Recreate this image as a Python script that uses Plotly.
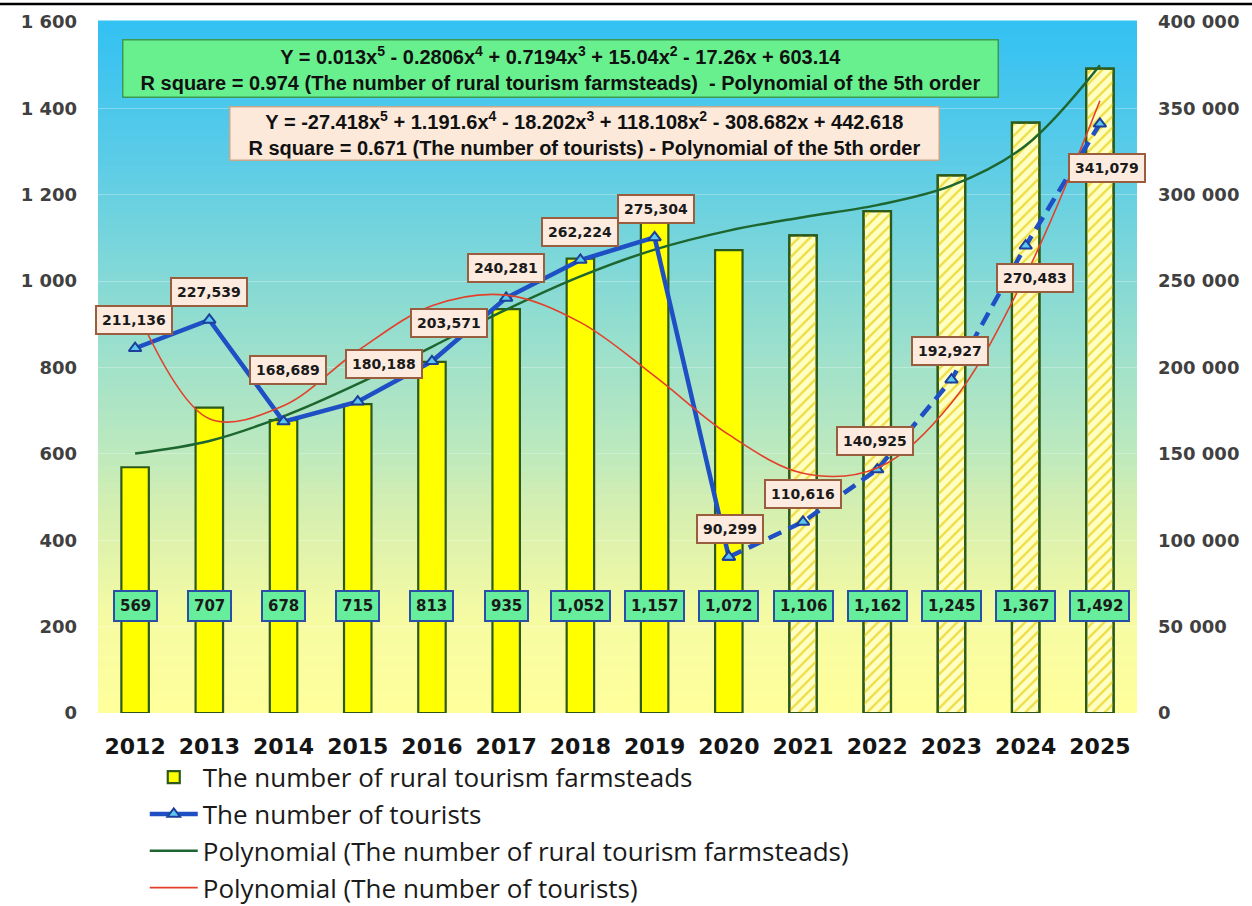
import plotly.graph_objects as go

# ---------------- data ----------------
years = [2012, 2013, 2014, 2015, 2016, 2017, 2018, 2019, 2020, 2021, 2022, 2023, 2024, 2025]
farmsteads = [569, 707, 678, 715, 813, 935, 1052, 1157, 1072, 1106, 1162, 1245, 1367, 1492]
farmstead_labels = ["569", "707", "678", "715", "813", "935", "1,052", "1,157", "1,072",
                    "1,106", "1,162", "1,245", "1,367", "1,492"]
forecast = [False] * 9 + [True] * 5
tourists = [211136, 227539, 168689, 180188, 203571, 240281, 262224, 275304, 90299,
            110616, 140925, 192927, 270483, 341079]
tourist_labels = ["211,136", "227,539", "168,689", "180,188", "203,571", "240,281", "262,224",
                  "275,304", "90,299", "110,616", "140,925", "192,927", "270,483", "341,079"]
# trend-line values
trend_farm = [601, 630, 687, 762, 848, 934, 1011, 1073, 1117, 1148, 1176, 1221, 1314, 1500]
trend_tour = [235000, 170300, 177900, 209700, 235700, 241900, 226100, 195000, 161100,
              138800, 141800, 179500, 253400, 354400]
left_ticks = [0, 200, 400, 600, 800, 1000, 1200, 1400, 1600]
left_tick_text = ["0", "200", "400", "600", "800", "1 000", "1 200", "1 400", "1 600"]
right_ticks = [0, 50000, 100000, 150000, 200000, 250000, 300000, 350000, 400000]
right_tick_text = ["0", "50 000", "100 000", "150 000", "200 000", "250 000",
                   "300 000", "350 000", "400 000"]
eq1 = ["Y = 0.013x<sup>5</sup> - 0.2806x<sup>4</sup> + 0.7194x<sup>3</sup> + 15.04x<sup>2</sup> - 17.26x + 603.14",
       "R square = 0.974 (The number of rural tourism farmsteads)  - Polynomial of the 5th order"]
eq2 = ["Y = -27.418x<sup>5</sup> + 1.191.6x<sup>4</sup> - 18.202x<sup>3</sup> + 118.108x<sup>2</sup> - 308.682x + 442.618",
       "R square = 0.671 (The number of tourists) - Polynomial of the 5th order"]
bar_label_level = 247

# ---------------- styles ----------------
tourist_label_shift = [(-1, 28), (0, 28), (4, 52), (26, 38), (17, 38), (0, 30), (0, 28),
                       (1, 28), (1, 28), (0, 28), (-2, 29), (-1, 29), (9, -32), (7, -44)]
grad_stops = [(0.0, "#FFFF9C"), (0.135, "#F6FBA2"), (0.308, "#D2EEB2"), (0.38, "#BCE9BE"),
              (0.525, "#9CE0CC"), (0.67, "#7AD6DA"), (0.815, "#58CBE8"), (1.0, "#33C1F3")]


def hex2rgb(h):
    h = h.lstrip("#")
    return tuple(int(h[i:i + 2], 16) for i in (0, 2, 4))


def grad_color(t):
    for (a, ca), (b, cb) in zip(grad_stops[:-1], grad_stops[1:]):
        if a <= t <= b:
            f = (t - a) / (b - a)
            ra, rb = hex2rgb(ca), hex2rgb(cb)
            return "rgb(%d,%d,%d)" % tuple(round(ra[i] + (rb[i] - ra[i]) * f) for i in range(3))
    return grad_stops[-1][1]


fig = go.Figure()

fig.add_trace(go.Bar(
    x=years, y=farmsteads, name="The number of rural tourism farmsteads",
    width=0.37, legendgroup="g1",
    marker=dict(color=["#FFFFC4" if f else "#FFFF00" for f in forecast],
                line=dict(color="#2D5A1B", width=2.2)),
    hoverinfo="skip",
))
fc_years = [y for y, f in zip(years, forecast) if f]
fc_vals = [v for v, f in zip(farmsteads, forecast) if f]
fig.add_trace(go.Bar(
    x=fc_years, y=fc_vals, name="forecast hatch", showlegend=False,
    width=0.37, legendgroup="g1",
    marker=dict(color="rgba(0,0,0,0)", line=dict(color="#2D5A1B", width=2.2),
                pattern=dict(shape="/", fgcolor="#EEDD44", size=8, solidity=0.3,
                             fillmode="replace")),
    hoverinfo="skip",
))

fig.add_trace(go.Scatter(
    x=years[:9], y=tourists[:9], name="The number of tourists", yaxis="y2",
    mode="lines+markers", legendgroup="g2",
    line=dict(color="#1F4FC4", width=4.5),
    marker=dict(symbol="triangle-up", size=11, color="#5CC8EE",
                line=dict(color="#1B3F9A", width=2)),
))
fig.add_trace(go.Scatter(
    x=years[8:], y=tourists[8:], name="The number of tourists", yaxis="y2",
    mode="lines+markers", legendgroup="g2", showlegend=False,
    line=dict(color="#1F4FC4", width=4.5, dash="14px,8px"),
    marker=dict(symbol="triangle-up", size=11, color="#5CC8EE",
                line=dict(color="#1B3F9A", width=2)),
))
fig.add_trace(go.Scatter(
    x=years, y=trend_farm, name="Polynomial (The number of rural tourism farmsteads)",
    mode="lines", legendgroup="g3", line=dict(color="#1E6630", width=2.5, shape="spline"),
))
fig.add_trace(go.Scatter(
    x=years, y=trend_tour, name="Polynomial (The number of tourists)", yaxis="y2",
    mode="lines", legendgroup="g4", line=dict(color="#E2402A", width=1.6, shape="spline"),
))

# gradient background
shapes = []
n = 120
for i in range(n):
    y0 = i / n
    y1 = (i + 1) / n
    shapes.append(dict(type="rect", xref="paper", yref="paper", x0=0, x1=1, y0=y0, y1=y1 + 0.002,
                       fillcolor=grad_color((y0 + y1) / 2), line=dict(width=0), layer="below"))
# top black rule
shapes.append(dict(type="line", xref="paper", yref="paper", x0=-0.1, x1=1.2, y0=1.026, y1=1.026,
                   line=dict(color="black", width=2.5)))

annotations = []
for yr, lab in zip(years, farmstead_labels):
    annotations.append(dict(
        x=yr, y=bar_label_level, xref="x", yref="y", text=lab, showarrow=False,
        font=dict(family="DejaVu Sans", size=15, color="#1A1A1A", weight="bold"),
        bgcolor="#66EE9C", bordercolor="#2B4EA6", borderwidth=2, borderpad=5,
    ))
for yr, val, lab, (dx, dy) in zip(years, tourists, tourist_labels, tourist_label_shift):
    annotations.append(dict(
        x=yr, y=val, xref="x", yref="y2", text=lab, showarrow=False,
        xshift=dx, yshift=dy,
        font=dict(family="DejaVu Sans", size=14, color="#1A1A1A", weight="bold"),
        bgcolor="#FDEBDF", bordercolor="#9A5E3E", borderwidth=2, borderpad=5,
    ))
annotations.append(dict(
    x=0.4447, y=0.9334, xref="paper", yref="paper", showarrow=False,
    xanchor="center", yanchor="middle",
    text="%s<br>%s" % tuple(eq1), width=872, height=54, align="center",
    font=dict(family="Liberation Sans", size=20, color="#111111", weight="bold"),
    bgcolor="#69F08E", bordercolor="#3A9A50", borderwidth=1.5, borderpad=1,
))
annotations.append(dict(
    x=0.4678, y=0.838, xref="paper", yref="paper", showarrow=False,
    xanchor="center", yanchor="middle",
    text="%s<br>%s" % tuple(eq2), width=706, height=50, align="center",
    font=dict(family="Liberation Sans", size=20, color="#111111", weight="bold"),
    bgcolor="#FCE9DA", bordercolor="#C9A88A", borderwidth=1.5, borderpad=1,
))

fig.update_layout(
    width=1252, height=906,
    margin=dict(l=98, r=115, t=22, b=193, autoexpand=False),
    paper_bgcolor="white", plot_bgcolor="rgba(0,0,0,0)",
    shapes=shapes, annotations=annotations,
    barmode="overlay",
    showlegend=True,
    legend=dict(x=0.045, y=0.168, yref="container", xanchor="left", yanchor="top",
                orientation="v",
                font=dict(family="Open Sans", size=26, color="#1A1A1A"),
                tracegroupgap=0, itemwidth=48, bgcolor="rgba(0,0,0,0)"),
    xaxis=dict(range=[2011.5, 2025.5], tickvals=years, showgrid=False, zeroline=False,
               showline=False,
               tickfont=dict(family="DejaVu Sans", size=22, color="#151515", weight="bold"),
               ticklabelstandoff=18),
    yaxis=dict(range=[0, 1600], tickvals=left_ticks, ticktext=left_tick_text,
               showgrid=True, gridcolor="rgba(255,255,255,0.3)", gridwidth=1,
               zeroline=False, showline=False,
               tickfont=dict(family="DejaVu Sans", size=18, color="#404040", weight="bold"),
               ticklabelstandoff=20),
    yaxis2=dict(range=[0, 400000], tickvals=right_ticks, ticktext=right_tick_text,
                overlaying="y", side="right", showgrid=False, zeroline=False, showline=False,
                tickfont=dict(family="DejaVu Sans", size=18, color="#404040", weight="bold"),
                ticklabelstandoff=20),
)

fig.write_html("out.html")
